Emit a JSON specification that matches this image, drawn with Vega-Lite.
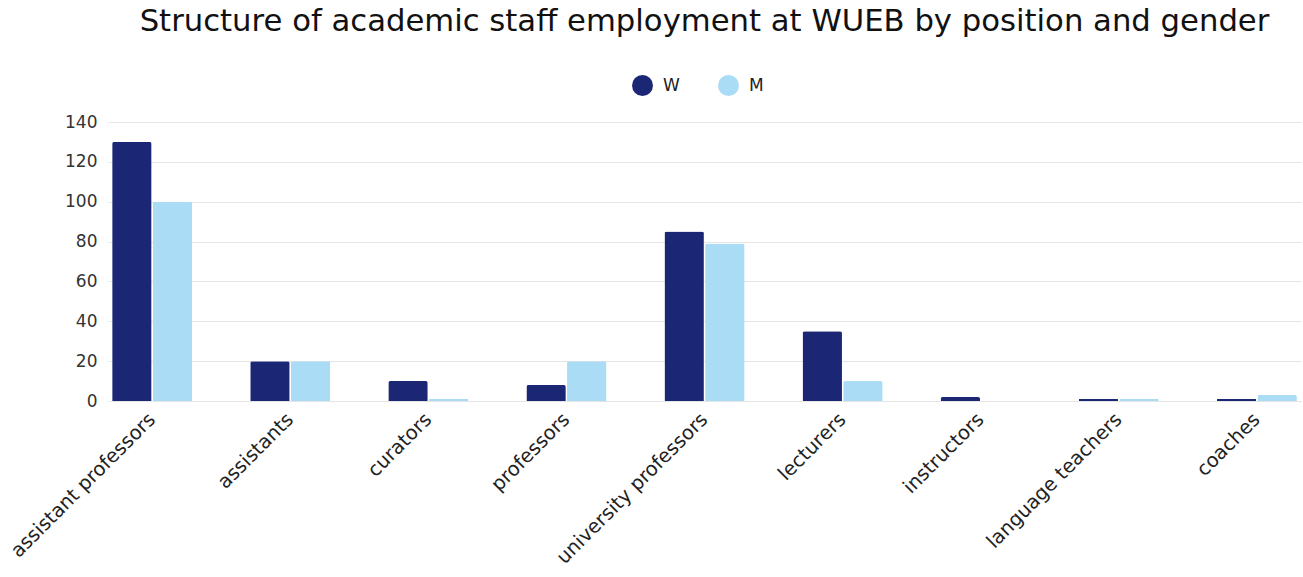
{
  "$schema": "https://vega.github.io/schema/vega-lite/v6.json",
  "width": 1193,
  "height": 279,
  "autosize": {"type": "none"},
  "padding": {"left": 108, "top": 122, "right": 2, "bottom": 176},
  "background": "white",
  "title": {
    "text": "Structure of academic staff employment at WUEB by position and gender",
    "anchor": "middle",
    "frame": "group",
    "fontSize": 30.7,
    "font": "DejaVu Sans",
    "fontWeight": "normal",
    "color": "#111111",
    "offset": 37
  },
  "data": {
    "values": [
      {"position": "assistant professors", "gender": "W", "value": 130},
      {"position": "assistant professors", "gender": "M", "value": 100},
      {"position": "assistants", "gender": "W", "value": 20},
      {"position": "assistants", "gender": "M", "value": 20},
      {"position": "curators", "gender": "W", "value": 10},
      {"position": "curators", "gender": "M", "value": 1},
      {"position": "professors", "gender": "W", "value": 8},
      {"position": "professors", "gender": "M", "value": 20},
      {"position": "university professors", "gender": "W", "value": 85},
      {"position": "university professors", "gender": "M", "value": 79},
      {"position": "lecturers", "gender": "W", "value": 35},
      {"position": "lecturers", "gender": "M", "value": 10},
      {"position": "instructors", "gender": "W", "value": 2},
      {"position": "instructors", "gender": "M", "value": 0},
      {"position": "language teachers", "gender": "W", "value": 1},
      {"position": "language teachers", "gender": "M", "value": 1},
      {"position": "coaches", "gender": "W", "value": 1},
      {"position": "coaches", "gender": "M", "value": 3}
    ]
  },
  "mark": {"type": "bar", "cornerRadiusEnd": 2},
  "encoding": {
    "x": {
      "field": "position",
      "type": "nominal",
      "sort": null,
      "scale": {"paddingInner": 0.42, "paddingOuter": 0.03},
      "axis": {
        "title": null,
        "labelAngle": -45,
        "labelAlign": "right",
        "labelBaseline": "middle",
        "labelFont": "DejaVu Sans",
        "labelFontSize": 19.5,
        "labelColor": "#222222",
        "labelPadding": 15,
        "ticks": false,
        "domain": false,
        "grid": false,
        "labelLimit": 400
      }
    },
    "xOffset": {
      "field": "gender",
      "type": "nominal",
      "sort": ["W", "M"],
      "scale": {"domain": ["W", "M"], "paddingInner": 0.03}
    },
    "y": {
      "field": "value",
      "type": "quantitative",
      "scale": {"domain": [0, 140], "nice": false},
      "axis": {
        "title": null,
        "values": [0, 20, 40, 60, 80, 100, 120, 140],
        "labelFont": "DejaVu Sans",
        "labelFontSize": 17,
        "labelColor": "#333333",
        "labelPadding": 11,
        "ticks": false,
        "domain": false,
        "gridColor": "#e5e5e5",
        "gridWidth": 1
      }
    },
    "color": {
      "field": "gender",
      "type": "nominal",
      "sort": ["W", "M"],
      "scale": {"domain": ["W", "M"], "range": ["#1b2775", "#aadcf6"]},
      "legend": {
        "title": null,
        "orient": "none",
        "direction": "horizontal",
        "legendX": 524,
        "legendY": -47,
        "symbolType": "circle",
        "symbolSize": 440,
        "symbolStrokeWidth": 0,
        "symbolOpacity": 1,
        "labelFont": "DejaVu Sans",
        "labelFontSize": 17,
        "labelColor": "#222222",
        "labelOffset": 10,
        "columnPadding": 38,
        "padding": 0
      }
    }
  },
  "config": {
    "view": {"stroke": null}
  }
}
